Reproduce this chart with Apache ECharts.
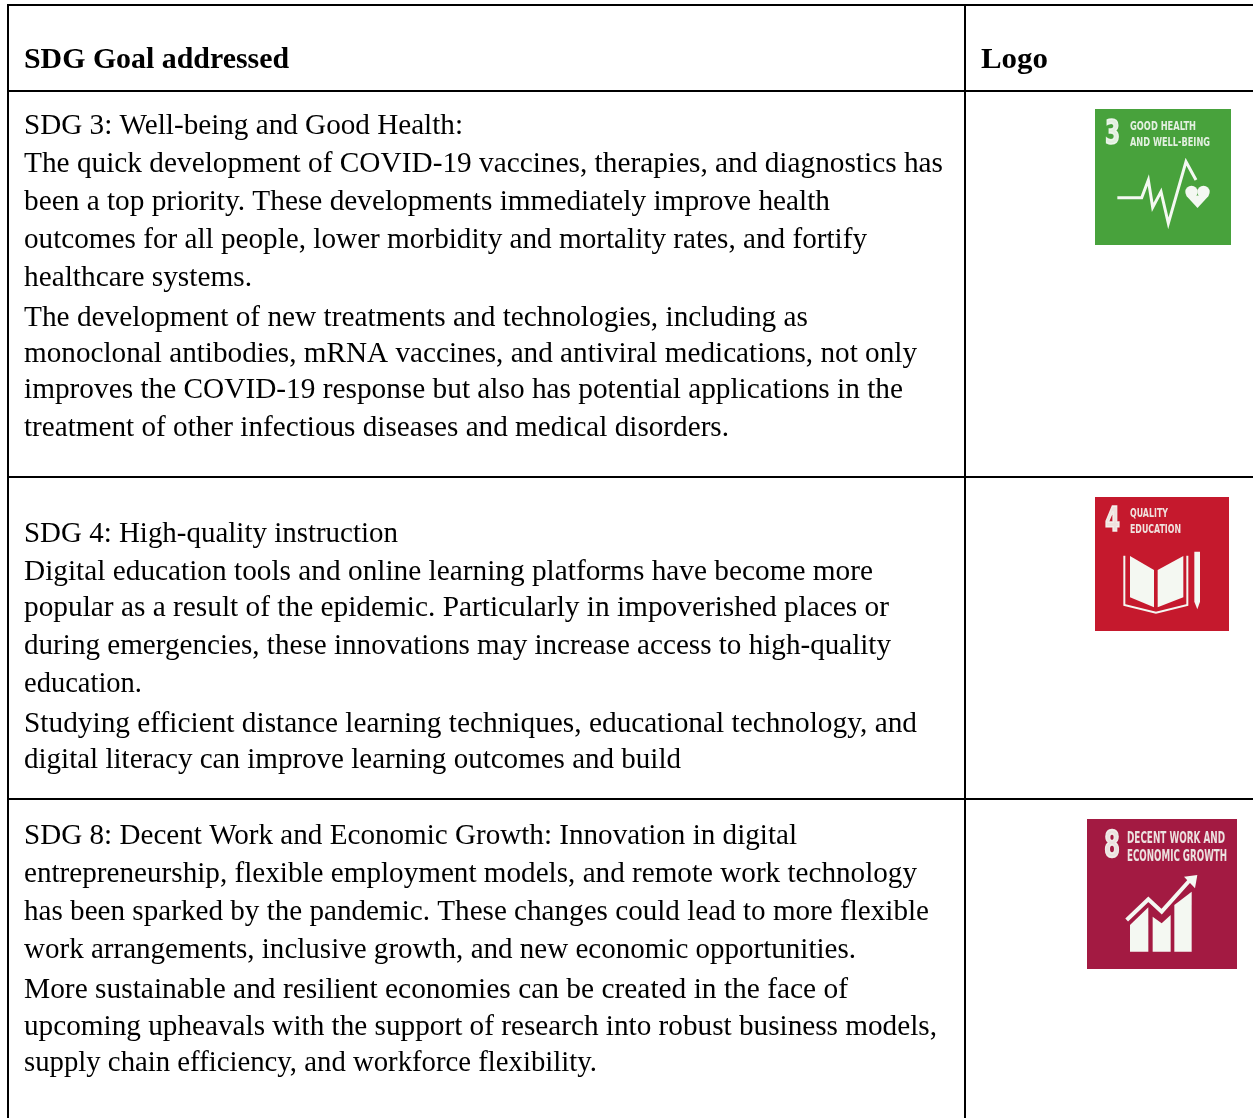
<!DOCTYPE html>
<html><head><meta charset="utf-8">
<style>html,body{margin:0;padding:0;background:#fff}#c{width:1253px;height:1118px}</style>
<script src="https://cdn.jsdelivr.net/npm/echarts@6/dist/echarts.min.js"></script></head>
<body><div id="c"></div>
<script>
const headers = ["SDG Goal addressed", "Logo"];
const row3 = ["SDG 3: Well-being and Good Health:",
 "The quick development of COVID-19 vaccines, therapies, and diagnostics has",
 "been a top priority. These developments immediately improve health",
 "outcomes for all people, lower morbidity and mortality rates, and fortify",
 "healthcare systems.",
 "The development of new treatments and technologies, including as",
 "monoclonal antibodies, mRNA vaccines, and antiviral medications, not only",
 "improves the COVID-19 response but also has potential applications in the",
 "treatment of other infectious diseases and medical disorders."];
const row4 = ["SDG 4: High-quality instruction",
 "Digital education tools and online learning platforms have become more",
 "popular as a result of the epidemic. Particularly in impoverished places or",
 "during emergencies, these innovations may increase access to high-quality",
 "education.",
 "Studying efficient distance learning techniques, educational technology, and",
 "digital literacy can improve learning outcomes and build"];
const row8 = ["SDG 8: Decent Work and Economic Growth: Innovation in digital",
 "entrepreneurship, flexible employment models, and remote work technology",
 "has been sparked by the pandemic. These changes could lead to more flexible",
 "work arrangements, inclusive growth, and new economic opportunities.",
 "More sustainable and resilient economies can be created in the face of",
 "upcoming upheavals with the support of research into robust business models,",
 "supply chain efficiency, and workforce flexibility."];
const logo3 = ["3", "GOOD HEALTH", "AND WELL-BEING"];
const logo4 = ["4", "QUALITY", "EDUCATION"];
const logo8 = ["8", "DECENT WORK AND", "ECONOMIC GROWTH"];

// layout
const y3 = [126,164,202,240,278,318,354,390,428], end3 = [463,943,830,867,252,808,917,903,729];
const y4 = [534,572,608,646,684,724,760], end4 = [398,873,889,891,142,917,681];
const y8 = [836,874,912,950,990,1027,1063], end8 = [797,917,929,856,848,937,597];
const SERIF = '"Liberation Serif","Times New Roman",serif';
const cv = document.createElement('canvas').getContext('2d');
const els = [];
function fit(str, x0, x1, yc, font, size, weight) {
  cv.font = `${weight} ${size}px ${font}`;
  const w = cv.measureText(str).width;
  els.push({type:'text', x:x0, y:yc, scaleX:(x1-x0)/w, originX:0, originY:0, silent:true,
    style:{text:str, x:0, y:0, fill:'#000', font:`${weight} ${size}px ${font}`, verticalAlign:'middle', align:'left'}});
}
function hline(y,x0,x1){els.push({type:'line',silent:true,shape:{x1:x0,y1:y,x2:x1,y2:y},style:{stroke:'#000',lineWidth:2}});}
function vline(x,y0,y1){els.push({type:'line',silent:true,shape:{x1:x,y1:y0,x2:x,y2:y1},style:{stroke:'#000',lineWidth:2}});}
[5,91,477,799].forEach(y=>hline(y,8,1253));
[8,965].forEach(x=>vline(x,4,1118));
fit(headers[0],24,289,61,SERIF,29,'bold');
fit(headers[1],981,1048,61,SERIF,29,'bold');
[[row3,y3,end3],[row4,y4,end4],[row8,y8,end8]].forEach(([r,ys,es])=>r.forEach((s,i)=>fit(s,24,es[i],ys[i],SERIF,29,'normal')));

// logos
const P = (ox,oy,pts)=>pts.map(p=>[ox+p[0]/3,oy+p[1]/3]);
const W='#f4f8f2';
function rect(x,y,w,h,c){els.push({type:'rect',silent:true,shape:{x,y,width:w,height:h},style:{fill:c}});}
function poly(pts,c){els.push({type:'polygon',silent:true,shape:{points:pts},style:{fill:c||W}});}
function pl(pts,lw,c){els.push({type:'polyline',silent:true,shape:{points:pts},style:{stroke:c||W,lineWidth:lw,fill:null,lineJoin:'miter'}});}
function circ(cx,cy,r){els.push({type:'circle',silent:true,shape:{cx,cy,r},style:{fill:W}});}
const SANS='"Liberation Sans Narrow","DejaVu Sans Condensed","Liberation Sans",sans-serif';
function ltxt(s,x0,x1,yc,size,sw){
  cv.font=`bold ${size}px ${SANS}`;const w=cv.measureText(s).width;
  els.push({type:'text',silent:true,x:x0,y:yc,scaleX:(x1-x0)/w,originX:0,originY:0,style:{text:s,x:0,y:0,fill:W,opacity:.9,stroke:W,lineWidth:sw||0,font:`bold ${size}px ${SANS}`,verticalAlign:'middle',align:'left'}});
}
// SDG 3
rect(1095,109,136,136,'#48a23c');
ltxt(logo3[0],1105,1120,135,33,1.5); ltxt(logo3[1],1130,1196,127,12); ltxt(logo3[2],1130,1210,143,12);
pl(P(1080,100,[[112,293],[185,293],[205,240],[218,322],[243,275],[265,370],[318,185],[348,240]]),3);
circ(1191.5,192,6.2);circ(1203.5,192,6.2);
poly([[1186,195.5],[1209,195.5],[1197.5,208]]);
// SDG 4
rect(1095,497,134,134,'#c5192d');
ltxt(logo4[0],1105,1120,522,33,1.5); ltxt(logo4[1],1130,1168,514,12); ltxt(logo4[2],1130,1181,530,12);
pl(P(1080,490,[[133,197],[133,345],[228,368],[322,345],[322,197]]),2);
poly(P(1080,490,[[150,198],[222,240],[222,352],[150,322]]));
poly(P(1080,490,[[233,240],[310,198],[310,322],[233,352]]));
poly(P(1080,490,[[343,185],[360,185],[360,335],[352,358],[343,335]]));
// SDG 8
rect(1087,819,150,150,'#a31a42');
ltxt(logo8[0],1104,1120,847,38,1.5); ltxt(logo8[1],1127,1225,839,15); ltxt(logo8[2],1127,1227,857,15);
poly(P(1080,810,[[150,345],[205,292],[205,425],[150,425]]));
poly(P(1080,810,[[218,320],[245,340],[272,315],[272,425],[218,425]]));
poly(P(1080,810,[[283,285],[335,245],[335,425],[283,425]]));
pl(P(1080,810,[[140,330],[205,268],[245,305],[330,210]]),4);
poly(P(1080,810,[[312,200],[352,195],[345,235]]));

const chart = echarts.init(document.getElementById('c'),null,{renderer:'canvas'});
chart.setOption({animation:false, backgroundColor:'#fff', graphic:{elements:els}});
</script></body></html>
